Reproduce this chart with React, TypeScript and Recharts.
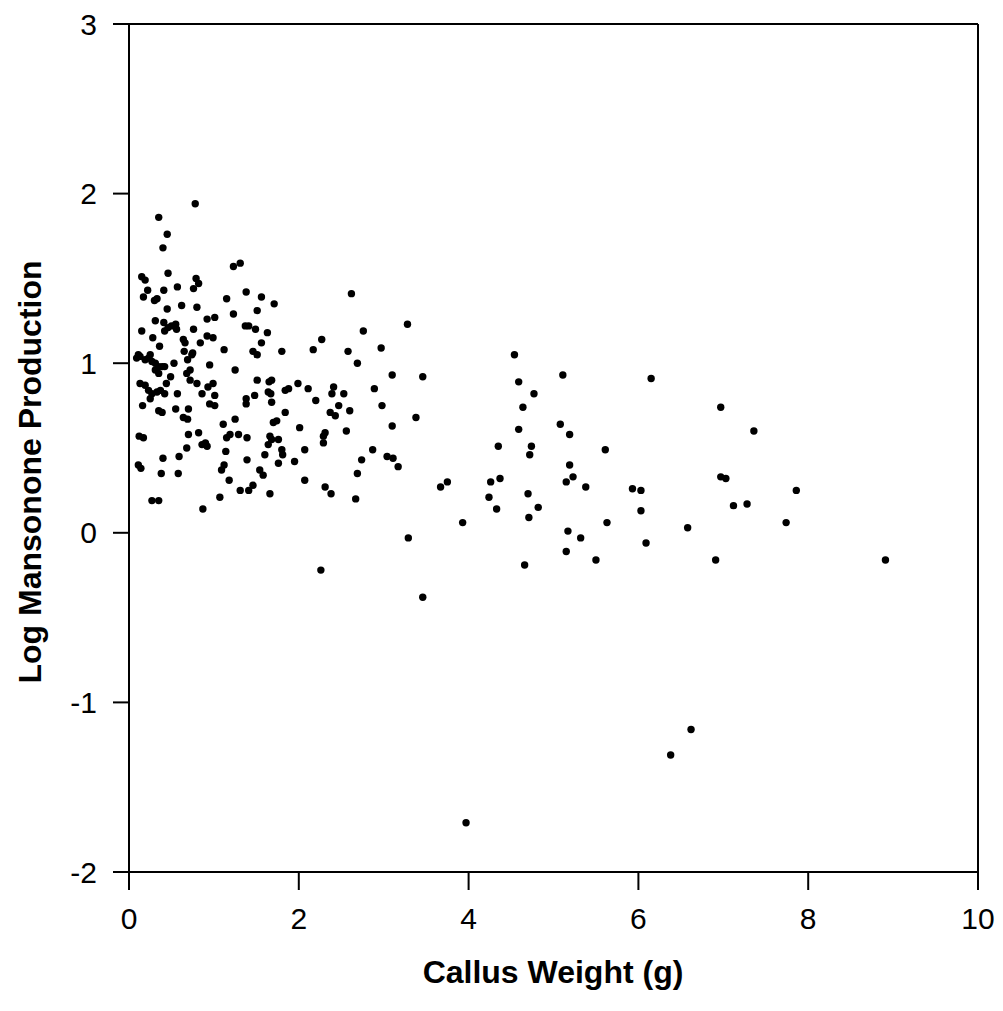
import { ReferenceLine, Scatter, ScatterChart, XAxis, YAxis } from "recharts";

const callusWeight = [
  0.78, 0.35, 0.45, 0.4, 1.23, 1.31, 0.15, 0.19, 0.46, 0.79, 0.82, 0.22, 0.41, 0.57, 0.76, 0.17, 0.3, 0.33, 1.38, 1.56,
  1.15, 1.71, 0.62, 0.8, 0.45, 1.51, 1.23, 1.01, 0.92, 0.31, 0.41, 0.55, 0.5, 0.46, 0.42, 0.56, 0.15, 0.76, 1.37, 1.41,
  1.49, 1.63, 0.28, 0.92, 0.99, 0.64, 0.66, 0.84, 1.56, 0.36, 1.12, 1.8, 0.65, 0.75, 0.74, 1.46, 1.51, 0.11, 0.13, 0.09,
  0.25, 0.23, 0.19, 0.27, 0.31, 0.35, 0.39, 0.42, 0.31, 0.35, 0.53, 0.69, 0.68, 0.72, 0.72, 0.95, 1.25, 0.49, 0.13, 0.19,
  0.23, 0.27, 0.25, 0.33, 0.37, 0.42, 0.44, 0.8, 0.93, 0.99, 0.57, 0.86, 1.01, 0.16, 0.95, 1.01, 0.35, 0.39, 0.55, 0.7,
  0.64, 0.69, 1.51, 1.68, 1.65, 1.64, 1.67, 1.84, 1.88, 1.48, 1.38, 1.38, 1.68, 1.84, 1.25, 1.11, 1.7, 1.74, 0.12, 0.17,
  0.7, 0.82, 0.86, 0.9, 0.92, 0.68, 1.15, 1.19, 1.29, 1.39, 1.66, 1.68, 1.76, 1.64, 1.14, 1.8, 1.81, 1.6, 0.4, 0.59,
  0.11, 0.14, 1.12, 1.09, 1.39, 1.76, 1.95, 0.38, 0.58, 1.54, 1.58, 1.18, 1.31, 1.41, 1.46, 1.66, 1.07, 0.27, 0.35, 0.87,
  2.62, 3.28, 2.76, 2.27, 2.17, 2.58, 2.97, 2.69, 3.1, 3.46, 1.99, 2.11, 2.41, 2.39, 2.53, 2.89, 2.2, 2.47, 2.98, 2.37,
  2.43, 2.6, 3.38, 2.01, 3.1, 2.31, 2.29, 2.29, 2.56, 2.07, 2.87, 2.74, 3.04, 3.11, 3.17, 2.69, 2.07, 2.31, 2.38, 2.67,
  3.67, 3.75, 3.29, 2.26, 4.54, 4.59, 5.11, 6.15, 4.77, 4.64, 4.59, 5.08, 5.19, 4.35, 4.74, 4.72, 5.61, 5.19, 5.23, 5.15,
  5.38, 4.26, 4.37, 4.24, 4.7, 4.33, 4.82, 4.71, 5.93, 6.03, 6.03, 3.93, 5.63, 5.17, 5.32, 6.09, 5.15, 5.5, 4.66, 6.58,
  6.97, 7.36, 6.97, 7.03, 7.86, 7.12, 7.28, 7.74, 6.91, 8.91, 3.46, 6.62, 6.38, 3.97,
];

const logMansonone = [
  1.94, 1.86, 1.76, 1.68, 1.57, 1.59, 1.51, 1.49, 1.53, 1.5, 1.47, 1.43, 1.43, 1.45, 1.44, 1.39, 1.37, 1.38, 1.42, 1.39,
  1.38, 1.35, 1.34, 1.33, 1.32, 1.31, 1.29, 1.27, 1.26, 1.25, 1.24, 1.23, 1.22, 1.21, 1.19, 1.2, 1.19, 1.2, 1.22, 1.22,
  1.2, 1.18, 1.15, 1.16, 1.15, 1.14, 1.12, 1.12, 1.12, 1.1, 1.08, 1.07, 1.07, 1.06, 1.05, 1.07, 1.05, 1.05, 1.04, 1.03,
  1.05, 1.03, 1.02, 1.01, 1.0, 0.98, 0.98, 0.98, 0.96, 0.94, 1.0, 1.02, 0.94, 0.96, 0.9, 0.99, 0.96, 0.92, 0.88, 0.87,
  0.84, 0.82, 0.79, 0.83, 0.84, 0.82, 0.88, 0.88, 0.86, 0.88, 0.82, 0.82, 0.81, 0.75, 0.76, 0.75, 0.72, 0.71, 0.73, 0.73,
  0.68, 0.67, 0.9, 0.9, 0.89, 0.83, 0.82, 0.84, 0.85, 0.81, 0.79, 0.76, 0.77, 0.71, 0.67, 0.64, 0.65, 0.66, 0.57, 0.56,
  0.58, 0.59, 0.52, 0.53, 0.51, 0.5, 0.56, 0.58, 0.58, 0.56, 0.57, 0.55, 0.55, 0.52, 0.48, 0.49, 0.46, 0.46, 0.44, 0.45,
  0.4, 0.38, 0.4, 0.37, 0.43, 0.41, 0.42, 0.35, 0.35, 0.37, 0.34, 0.31, 0.25, 0.25, 0.28, 0.23, 0.21, 0.19, 0.19, 0.14,
  1.41, 1.23, 1.19, 1.14, 1.08, 1.07, 1.09, 1.0, 0.93, 0.92, 0.88, 0.85, 0.86, 0.82, 0.82, 0.85, 0.78, 0.75, 0.75, 0.71,
  0.69, 0.72, 0.68, 0.62, 0.63, 0.59, 0.57, 0.53, 0.6, 0.49, 0.49, 0.43, 0.45, 0.44, 0.39, 0.35, 0.31, 0.27, 0.23, 0.2,
  0.27, 0.3, -0.03, -0.22, 1.05, 0.89, 0.93, 0.91, 0.82, 0.74, 0.61, 0.64, 0.58, 0.51, 0.51, 0.46, 0.49, 0.4, 0.33, 0.3,
  0.27, 0.3, 0.32, 0.21, 0.23, 0.14, 0.15, 0.09, 0.26, 0.25, 0.13, 0.06, 0.06, 0.01, -0.03, -0.06, -0.11, -0.16, -0.19, 0.03,
  0.74, 0.6, 0.33, 0.32, 0.25, 0.16, 0.17, 0.06, -0.16, -0.16, -0.38, -1.16, -1.31, -1.71,
];

const xTicks = [0, 2, 4, 6, 8, 10];
const yTicks = [-2, -1, 0, 1, 2, 3];

const points = callusWeight.map((x, i) => ({ x, y: logMansonone[i] }));

const FONT = '"Liberation Sans", Arial, Helvetica, sans-serif';
const tickStyle = { fill: "#000", fontSize: 30, fontFamily: FONT };
const axisLine = { stroke: "#000", strokeWidth: 2 };

const Dot = (props: any) => <circle cx={props.cx} cy={props.cy} r={3.7} fill="#000" />;

export default function App() {
  return (
    <div style={{ position: "absolute", left: 0, top: 0, background: "#fff" }}>
      <ScatterChart width={1003} height={1011} margin={{ top: 24, right: 25, left: 0, bottom: 0 }}>
        <XAxis
          type="number"
          dataKey="x"
          domain={[0, 10]}
          ticks={xTicks}
          height={139}
          tick={tickStyle}
          tickSize={18}
          tickMargin={18}
          axisLine={axisLine}
          tickLine={{ stroke: "#000", strokeWidth: 2 }}
          allowDataOverflow
          label={() => (
            <text x={553} y={983} textAnchor="middle" fontFamily={FONT} fontSize={32} fontWeight="bold" fill="#000">
              Callus Weight (g)
            </text>
          )}
        />
        <YAxis
          type="number"
          dataKey="y"
          domain={[-2, 3]}
          ticks={yTicks}
          width={129}
          tick={tickStyle}
          tickSize={16}
          tickMargin={16}
          axisLine={axisLine}
          tickLine={{ stroke: "#000", strokeWidth: 2 }}
          allowDataOverflow
          label={() => (
            <text
              x={30}
              y={472}
              transform="rotate(-90, 30, 472)"
              textAnchor="middle"
              dominantBaseline="central"
              fontFamily={FONT}
              fontSize={32}
              fontWeight="bold"
              fill="#000"
            >
              Log Mansonone Production
            </text>
          )}
        />
        <ReferenceLine y={3} stroke="#000" strokeWidth={2} />
        <ReferenceLine x={10} stroke="#000" strokeWidth={2} />
        <Scatter data={points} shape={Dot} isAnimationActive={false} />
      </ScatterChart>
    </div>
  );
}
